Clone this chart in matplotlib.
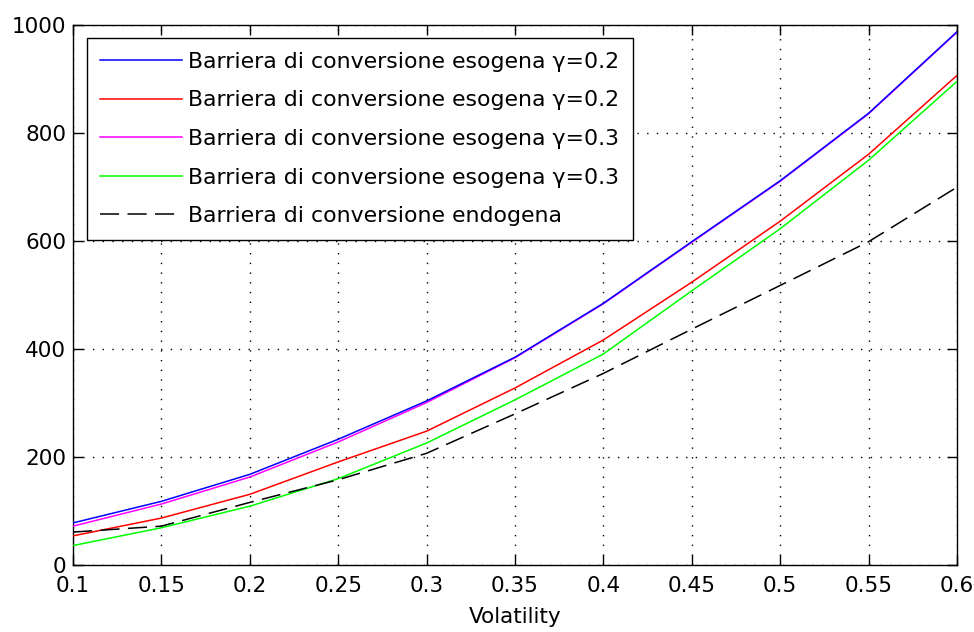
import matplotlib
matplotlib.use('Agg')
import matplotlib.pyplot as plt

# valori
volatility = [0.1, 0.15, 0.2, 0.25, 0.3, 0.35, 0.4, 0.45, 0.5, 0.55, 0.6]
esogena_blu = [78, 118, 168, 233, 304, 385, 485, 599, 712, 837, 988]
esogena_rosso = [54, 87, 131, 191, 248, 328, 417, 524, 637, 761, 907]
esogena_magenta = [72, 113, 163, 228, 301, 384, 484, 598, 711, 836, 987]
esogena_verde = [36, 69, 109, 160, 226, 306, 391, 508, 623, 750, 896]
endogena = [61, 72, 116, 158, 207, 280, 355, 437, 518, 599, 700]

etichette = ['Barriera di conversione esogena γ=0.2',
             'Barriera di conversione esogena γ=0.2',
             'Barriera di conversione esogena γ=0.3',
             'Barriera di conversione esogena γ=0.3',
             'Barriera di conversione endogena']

plt.rcParams['font.family'] = ['DejaVu Sans']
plt.rcParams['font.size'] = 15

fig = plt.figure(figsize=(9.74, 6.32), dpi=100)
ax = fig.add_axes([0.075, 0.106, 0.9075, 0.854])

ax.plot(volatility, esogena_blu, color='#0000ff', lw=1.1, label=etichette[0], zorder=4)
ax.plot(volatility, esogena_rosso, color='#ff0000', lw=1.1, label=etichette[1], zorder=3)
ax.plot(volatility, esogena_magenta, color='#ff00ff', lw=1.1, label=etichette[2], zorder=3)
ax.plot(volatility, esogena_verde, color='#00ff00', lw=1.1, label=etichette[3], zorder=3)
ax.plot(volatility, endogena, color='black', lw=1.1, ls=(0, (12.5, 5.5)), label=etichette[4], zorder=3)

ax.set_xlim(0.1, 0.6)
ax.set_ylim(0, 1000)
ax.set_xticks(volatility)
ax.set_xticklabels([f'{v:g}' for v in volatility])
ax.set_yticks([0, 200, 400, 600, 800, 1000])
ax.set_xlabel('Volatility', fontsize=15.5, labelpad=8)

ax.grid(True, color='black', ls=(0, (1, 6)), lw=1.0)
ax.tick_params(direction='in', top=True, right=True, length=7, width=1, labelsize=15.5)
ax.tick_params(axis='x', pad=8)
ax.tick_params(axis='y', pad=5)
for s in ax.spines.values():
    s.set_linewidth(1)

leg = ax.legend(loc='upper left', bbox_to_anchor=(0.0155, 0.9765), fancybox=False,
                edgecolor='black', framealpha=1, fontsize=15.8, handlelength=3.7,
                handletextpad=0.3, labelspacing=0.85, borderpad=0.62,
                borderaxespad=0)
leg.get_frame().set_linewidth(1)

fig.savefig('out.png', dpi=100)
